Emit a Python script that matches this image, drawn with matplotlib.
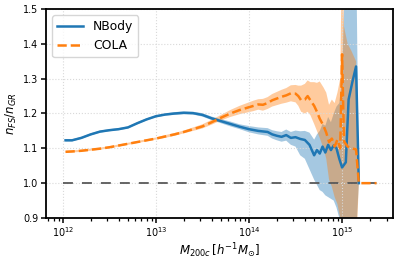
import matplotlib
matplotlib.use("Agg")
import matplotlib.pyplot as plt
import numpy as np

# log10(M200c) bin centres and ratio n_FS / n_GR, with band edges
nbody_logm = [12.03, 12.10, 12.20, 12.30, 12.40, 12.50, 12.60, 12.70, 12.80, 12.90,
              13.00, 13.10, 13.20, 13.30, 13.40, 13.50, 13.60, 13.70, 13.80, 13.90,
              14.00, 14.10, 14.20, 14.25, 14.30, 14.35, 14.40, 14.45, 14.50, 14.55,
              14.60, 14.65, 14.70, 14.73, 14.76, 14.79, 14.82, 14.85, 14.88, 14.91,
              14.94, 14.97, 15.00, 15.04, 15.07, 15.11, 15.15, 15.18]
nbody_val = [1.123, 1.123, 1.130, 1.140, 1.148, 1.152, 1.155, 1.160, 1.172, 1.183,
             1.192, 1.197, 1.200, 1.202, 1.201, 1.196, 1.186, 1.178, 1.170, 1.162,
             1.155, 1.150, 1.147, 1.140, 1.136, 1.133, 1.138, 1.130, 1.132, 1.127,
             1.124, 1.110, 1.080, 1.095, 1.085, 1.105, 1.088, 1.110, 1.095, 1.108,
             1.100, 1.070, 1.045, 1.060, 1.240, 1.290, 1.335, 1.000]
nbody_lo = [1.120, 1.120, 1.127, 1.137, 1.145, 1.149, 1.152, 1.157, 1.169, 1.180,
            1.189, 1.194, 1.196, 1.198, 1.197, 1.191, 1.181, 1.172, 1.163, 1.155,
            1.146, 1.140, 1.136, 1.128, 1.123, 1.119, 1.122, 1.110, 1.105, 1.080,
            1.070, 1.040, 1.010, 0.995, 0.980, 0.975, 0.965, 0.960, 0.955, 0.950,
            0.930, 0.900, 0.850, 0.800, 0.800, 0.800, 0.850, 1.000]
nbody_hi = [1.126, 1.126, 1.133, 1.143, 1.151, 1.155, 1.158, 1.163, 1.175, 1.186,
            1.195, 1.200, 1.204, 1.206, 1.205, 1.201, 1.191, 1.184, 1.177, 1.169,
            1.164, 1.160, 1.158, 1.152, 1.149, 1.147, 1.154, 1.147, 1.151, 1.149,
            1.150, 1.145, 1.125, 1.140, 1.150, 1.170, 1.165, 1.190, 1.175, 1.200,
            1.220, 1.230, 1.300, 1.700, 1.700, 1.700, 1.700, 1.000]

cola_logm = [12.03, 12.10, 12.20, 12.30, 12.40, 12.50, 12.60, 12.70, 12.80, 12.90,
             13.00, 13.10, 13.20, 13.30, 13.40, 13.50, 13.60, 13.70, 13.80, 13.90,
             14.00, 14.05, 14.10, 14.15, 14.20, 14.25, 14.30, 14.35, 14.40, 14.45,
             14.50, 14.53, 14.56, 14.60, 14.63, 14.66, 14.70, 14.73, 14.76, 14.80,
             14.83, 14.86, 14.89, 14.92, 14.95, 14.98, 15.00, 15.02, 15.06, 15.10,
             15.15, 15.18, 15.25, 15.32, 15.37]
cola_val = [1.090, 1.091, 1.093, 1.096, 1.099, 1.103, 1.108, 1.113, 1.118, 1.123,
            1.128, 1.134, 1.140, 1.147, 1.155, 1.163, 1.175, 1.188, 1.200, 1.210,
            1.218, 1.222, 1.226, 1.225, 1.230, 1.238, 1.243, 1.248, 1.252, 1.258,
            1.257, 1.250, 1.238, 1.240, 1.250, 1.238, 1.222, 1.205, 1.185, 1.165,
            1.145, 1.118, 1.128, 1.105, 1.125, 1.100, 1.370, 1.120, 1.105, 1.100,
            1.097, 1.000, 1.000, 1.000, 1.000]
cola_lo = [1.087, 1.088, 1.090, 1.093, 1.096, 1.100, 1.105, 1.110, 1.115, 1.120,
           1.125, 1.130, 1.136, 1.143, 1.150, 1.157, 1.168, 1.180, 1.190, 1.198,
           1.204, 1.207, 1.211, 1.208, 1.213, 1.220, 1.224, 1.228, 1.231, 1.235,
           1.232, 1.222, 1.205, 1.200, 1.205, 1.195, 1.170, 1.150, 1.130, 1.100,
           1.070, 1.010, 0.990, 0.960, 0.940, 0.900, 0.850, 0.800, 0.800, 0.800,
           0.800, 1.000, 1.000, 1.000, 1.000]
cola_hi = [1.093, 1.094, 1.096, 1.099, 1.102, 1.106, 1.111, 1.116, 1.121, 1.126,
           1.131, 1.138, 1.144, 1.151, 1.160, 1.169, 1.182, 1.196, 1.210, 1.222,
           1.232, 1.237, 1.241, 1.242, 1.247, 1.256, 1.262, 1.268, 1.273, 1.281,
           1.282, 1.280, 1.280, 1.285, 1.295, 1.290, 1.290, 1.288, 1.292, 1.275,
           1.260, 1.225, 1.240, 1.230, 1.260, 1.300, 1.700, 1.450, 1.400, 1.380,
           1.350, 1.000, 1.000, 1.000, 1.000]

m_nb = 10 ** np.array(nbody_logm)
m_cl = 10 ** np.array(cola_logm)

plt.rcParams['font.family'] = 'DejaVu Sans'
fig = plt.figure(figsize=(3.99, 2.61), dpi=100)
ax = fig.add_axes([0.1153, 0.1648, 0.8704, 0.8007])

ax.fill_between(m_nb, nbody_lo, nbody_hi, color='C0', alpha=0.4, lw=0)
ax.fill_between(m_cl, cola_lo, cola_hi, color='C1', alpha=0.4, lw=0)
ax.plot([1e12, m_cl.max()], [1.0, 1.0], color='0.35', lw=1.3, dashes=(5.5, 5))
ax.plot(m_nb, nbody_val, color='C0', lw=1.8, label='NBody')
ax.plot(m_cl, cola_val, color='C1', lw=1.8, ls='--', label='COLA')

ax.set_xscale('log')
ax.set_xlim(10 ** 11.82, 10 ** 15.55)
ax.set_ylim(0.9, 1.5)
ax.set_yticks([0.9, 1.0, 1.1, 1.2, 1.3, 1.4, 1.5])
ax.grid(True, which='major', color='0.85', ls=':', lw=0.8)

ax.tick_params(which='major', labelsize=6.9, length=3.5, width=1.1, pad=2)
ax.tick_params(which='minor', length=2, width=0.9)
for s in ax.spines.values():
    s.set_linewidth(1.3)

ax.set_xlabel(r'$M_{200c}\,[h^{-1}M_{\odot}]$', fontsize=8.5, labelpad=1)
ax.set_ylabel(r'$n_{FS}/n_{GR}$', fontsize=8.5, labelpad=3)
ax.legend(loc='upper left', fontsize=8.9, handlelength=2.1, borderaxespad=0.5)

fig.savefig('out.png', dpi=100)
